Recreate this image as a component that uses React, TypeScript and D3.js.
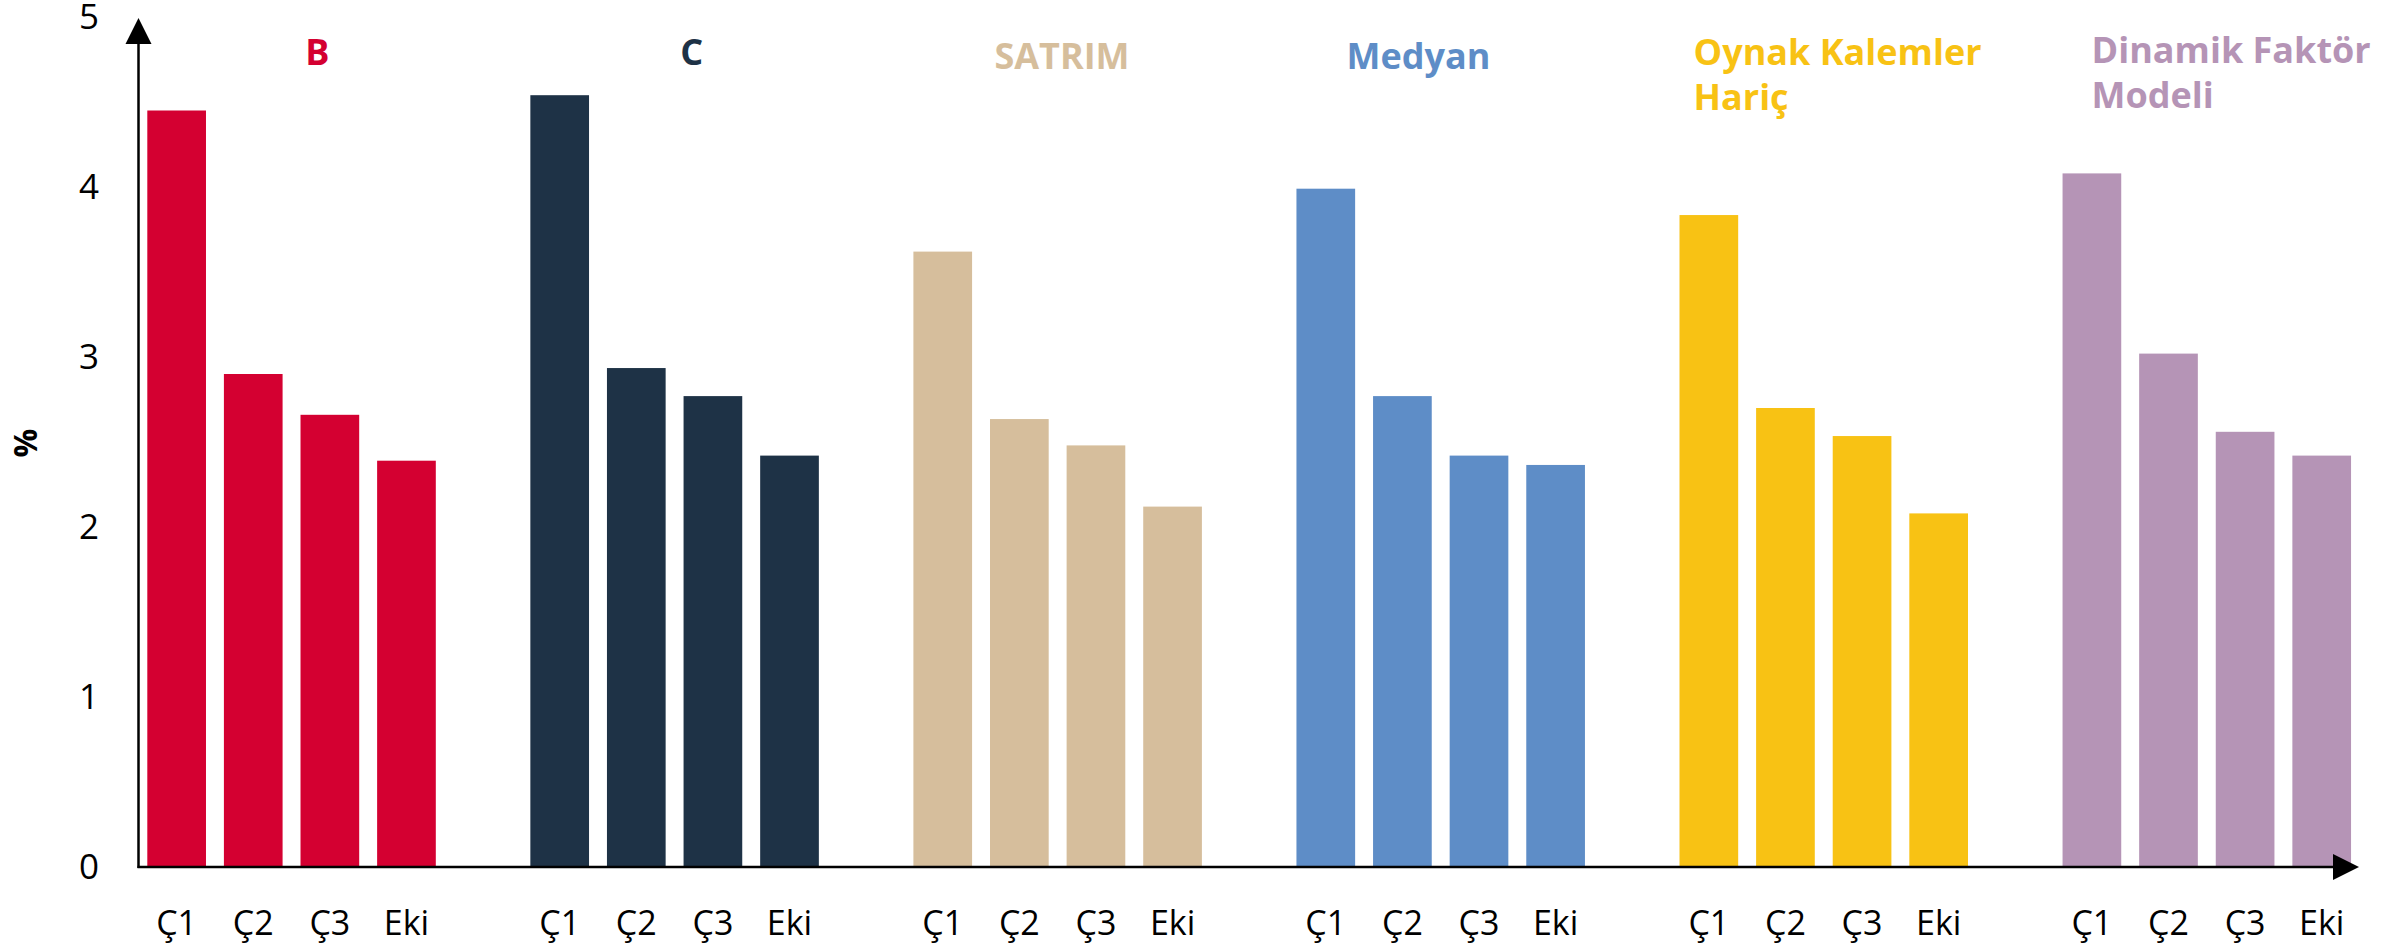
import React from 'react';
import * as d3 from 'd3';

const groups = ['B', 'C', 'SATRIM', 'Medyan', 'Oynak Kalemler Hariç', 'Dinamik Faktör Modeli'];
const groupTitleLines = [['B'], ['C'], ['SATRIM'], ['Medyan'], ['Oynak Kalemler', 'Hariç'], ['Dinamik Faktör', 'Modeli']];
const categories = ['Ç1', 'Ç2', 'Ç3', 'Eki'];
const yTicks = [0, 1, 2, 3, 4, 5];

const valuesB = [4.45, 2.9, 2.66, 2.39];
const valuesC = [4.54, 2.935, 2.77, 2.42];
const valuesSatrim = [3.62, 2.635, 2.48, 2.12];
const valuesMedyan = [3.99, 2.77, 2.42, 2.365];
const valuesOynak = [3.835, 2.7, 2.535, 2.08];
const valuesDinamik = [4.08, 3.02, 2.56, 2.42];

const seriesValues = [valuesB, valuesC, valuesSatrim, valuesMedyan, valuesOynak, valuesDinamik];
const colors = ['#D40031', '#1E3246', '#D6BE9C', '#5E8DC7', '#F8C214', '#B594B6'];
// where each title text box starts, measured from its group's left edge
const titleOffsets = [158, 150, 81, 50, 14, 29];
const titleBaselines = [65, 65, 69, 69, 65, 63];

const W = 2402;
const H = 948;
const font = '"Open Sans", "Noto Sans", sans-serif';

export default function App() {
  const axisX = 138.5;
  const axisY = 867;
  const arrowEnd = 2359;

  const y = d3.scaleLinear().domain([0, 5]).range([axisY, 17]);
  const x0 = d3
    .scaleBand<string>()
    .domain(groups)
    .range([147.3, 147.3 + 6 * 383.05])
    .padding(0);
  const x1 = d3
    .scaleBand<string>()
    .domain(categories)
    .range([0, 288.5])
    .paddingInner(0.234)
    .paddingOuter(0);

  return (
    <svg
      width={W}
      height={H}
      style={{ position: 'absolute', left: 0, top: 0, background: '#fff' }}
      fontFamily={font}
    >
      {groups.map((g, gi) => (
        <g key={g} transform={`translate(${x0(g)},0)`}>
          {categories.map((c, ci) => {
            const v = seriesValues[gi][ci];
            return (
              <rect
                key={c}
                x={x1(c)}
                y={y(v)}
                width={x1.bandwidth()}
                height={y(0) - y(v)}
                fill={colors[gi]}
              />
            );
          })}
          {categories.map((c) => (
            <text
              key={'l' + c}
              x={(x1(c) || 0) + x1.bandwidth() / 2}
              y={935}
              textAnchor="middle"
              fontSize={34}
              fill="#000"
            >
              {c}
            </text>
          ))}
          <text
            x={titleOffsets[gi]}
            y={titleBaselines[gi]}
            fontSize={36}
            fontWeight="bold"
            fill={colors[gi]}
          >
            {groupTitleLines[gi].map((line, li) => (
              <tspan key={li} x={titleOffsets[gi]} dy={li === 0 ? 0 : 45}>
                {line}
              </tspan>
            ))}
          </text>
        </g>
      ))}

      {/* axes with arrow heads */}
      <line x1={axisX} y1={axisY + 1} x2={axisX} y2={40} stroke="#000" strokeWidth={2.5} />
      <path d={`M${axisX},${18} L${axisX - 13},${44} L${axisX + 13},${44} Z`} fill="#000" />
      <line x1={axisX - 1} y1={axisY} x2={arrowEnd - 22} y2={axisY} stroke="#000" strokeWidth={2.5} />
      <path d={`M${arrowEnd},${axisY} L${arrowEnd - 26},${axisY - 13} L${arrowEnd - 26},${axisY + 13} Z`} fill="#000" />

      {yTicks.map((t) => (
        <text
          key={t}
          x={99}
          y={y(t)}
          dy="0.35em"
          textAnchor="end"
          fontSize={35}
          fill="#000"
        >
          {t}
        </text>
      ))}

      <text
        transform={`translate(37,${443}) rotate(-90)`}
        textAnchor="middle"
        fontSize={32}
        fontWeight="bold"
        fill="#000"
      >
        %
      </text>
    </svg>
  );
}
